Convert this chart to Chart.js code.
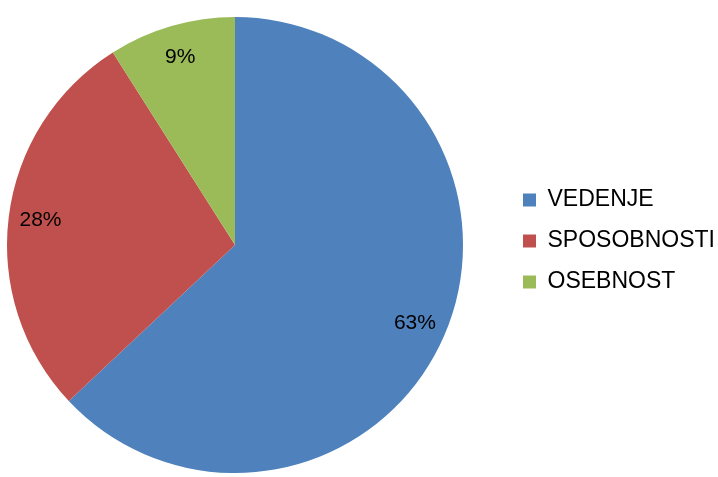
<!DOCTYPE html>
<html>
<head>
<meta charset="utf-8">
<script src="https://cdn.jsdelivr.net/npm/chart.js@4"></script>
<style>
  html, body { margin: 0; padding: 0; background: #fff; }
  #wrap { width: 718px; height: 477px; }
</style>
</head>
<body>
<div id="wrap"><canvas id="pieChart"></canvas></div>
<script>
// podatki
const labels = ['VEDENJE', 'SPOSOBNOSTI', 'OSEBNOST'];
const values = [63, 28, 9];
const colors = ['#4F81BD', '#C0504D', '#9BBB59'];

const FONT = '"Liberation Sans", Arial, sans-serif';

// legenda desno od tortnega diagrama, pita levo
const placePlugin = {
    id: 'placePlugin',
    afterLayout(chart) {
        const a = chart.chartArea;
        a.right = a.left + a.height;
        a.width = a.height;
        const lg = chart.legend;
        const shift = (a.right + 42) - lg.left;
        lg.left += shift;
        lg.right += shift;
        lg.top -= 4;
        lg.bottom -= 4;
    }
};

// odstotki znotraj rezin
const pctLabels = {
    id: 'pctLabels',
    afterDatasetsDraw(chart) {
        const ctx = chart.ctx;
        const meta = chart.getDatasetMeta(0);
        ctx.save();
        ctx.font = '21px ' + FONT;
        ctx.fillStyle = '#000';
        ctx.textAlign = 'center';
        ctx.textBaseline = 'middle';
        meta.data.forEach((arc, i) => {
            const p = arc.getProps(['x', 'y', 'startAngle', 'endAngle', 'outerRadius'], true);
            const mid = (p.startAngle + p.endAngle) / 2;
            const r = p.outerRadius * 0.86;
            ctx.fillText(values[i] + '%', p.x + Math.cos(mid) * r, p.y + Math.sin(mid) * r);
        });
        ctx.restore();
    }
};

new Chart(document.getElementById('pieChart').getContext('2d'), {
    type: 'pie',
    data: {
        labels: labels,
        datasets: [{
            data: values,
            backgroundColor: colors,
            borderWidth: 0
        }]
    },
    options: {
        responsive: true,
        maintainAspectRatio: false,
        animation: false,
        layout: {
            padding: { left: 7, top: 17, bottom: 4, right: 0 }
        },
        plugins: {
            legend: {
                position: 'right',
                labels: {
                    color: '#000',
                    boxWidth: 13,
                    boxHeight: 13,
                    padding: 18,
                    font: { family: FONT, size: 23 }
                }
            },
            tooltip: { enabled: false }
        }
    },
    plugins: [placePlugin, pctLabels]
});
</script>
</body>
</html>
